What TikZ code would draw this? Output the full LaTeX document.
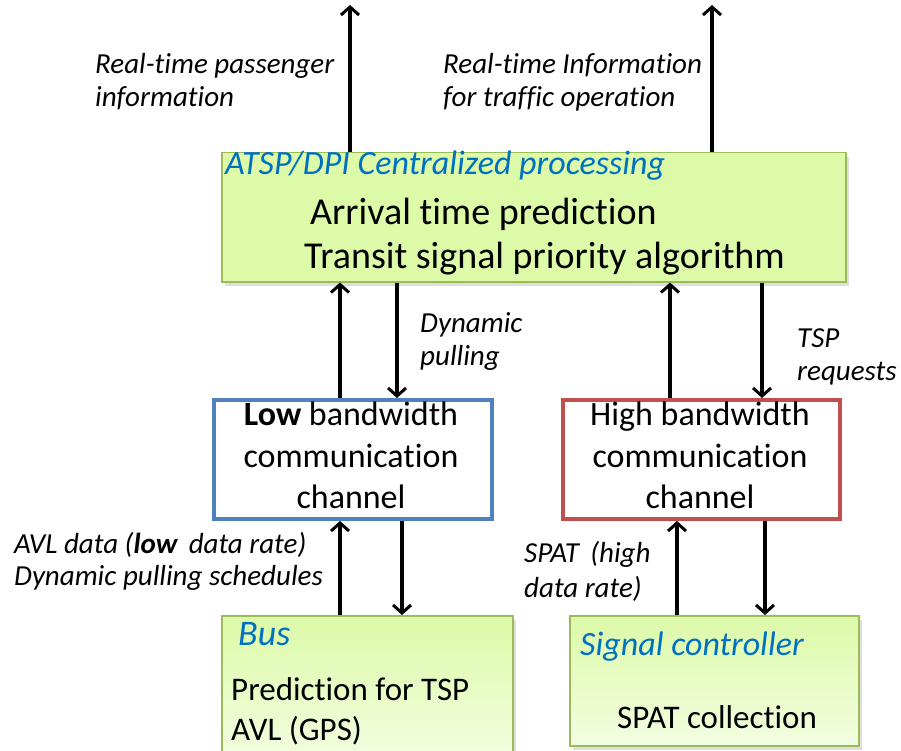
\documentclass[tikz,border=0pt]{standalone}
\usepackage{fontspec}
\setmainfont{Carlito}[Ligatures=NoCommon]
\usetikzlibrary{arrows.meta,shadows}
\definecolor{boxgreen}{RGB}{220,250,168}
\definecolor{greenedge}{RGB}{155,187,89}
\definecolor{titleblue}{RGB}{0,112,192}
\definecolor{lowblue}{RGB}{79,129,189}
\definecolor{highred}{RGB}{192,80,77}
\tikzset{
    procbox/.style={draw=greenedge, line width=1.5pt, fill=boxgreen, inner sep=0pt, anchor=north west,
        drop shadow={opacity=0.25, shadow xshift=3pt, shadow yshift=-4pt}},
    devbox/.style={procbox, fill=none, top color=boxgreen, middle color=boxgreen, bottom color=boxgreen!35!white},
    chanbox/.style={fill=white, line width=4pt, inner sep=0pt, anchor=north west},
    link/.style={line width=3.2pt, -{Straight Barb[length=8pt,width=18pt,line width=3pt]}},
    note/.style={font=\itshape\fontsize{29}{34}\selectfont, anchor=base west, inner sep=0pt},
    boxtitle/.style={font=\itshape\fontsize{34}{40}\selectfont, text=titleblue, anchor=base west, inner sep=0pt},
    bigtext/.style={font=\fontsize{38}{44}\selectfont, anchor=base west, inner sep=0pt},
    chantext/.style={font=\fontsize{34}{40}\selectfont, anchor=base, inner sep=0pt},
    devtext/.style={font=\fontsize{33}{40}\selectfont, anchor=base west, inner sep=0pt}
}
\begin{document}
\begin{tikzpicture}[x=1pt, y=-1pt]
    \useasboundingbox (0,0) rectangle (901,751);

    % boxes
    \node[procbox, minimum width=624pt, minimum height=129pt] (central) at (221,152) {};
    \node[chanbox, draw=lowblue, minimum width=278pt, minimum height=119pt] (low) at (212,398) {};
    \node[chanbox, draw=highred, minimum width=277pt, minimum height=119pt] (high) at (561,398) {};
    \node[devbox, minimum width=291pt, minimum height=145pt] (bus) at (221,615) {};
    \node[devbox, minimum width=289pt, minimum height=130pt] (signal) at (569,615) {};

    % box texts
    \node[boxtitle] (centraltitle) at (225,175) {ATSP/DPI Centralized processing};
    \node[bigtext] (arrival) at (310,225) {Arrival time prediction};
    \node[bigtext] (tspalgo) at (304,268) {Transit signal priority algorithm};

    \node[chantext] (low1) at (351,425) {\textbf{Low} bandwidth};
    \node[chantext] (low2) at (351,467) {communication};
    \node[chantext] (low3) at (351,508) {channel};
    \node[chantext] (high1) at (700,425) {High bandwidth};
    \node[chantext] (high2) at (700,467) {communication};
    \node[chantext] (high3) at (700,508) {channel};

    \node[boxtitle, font=\itshape\fontsize{36}{40}\selectfont] (bustitle) at (238,645) {Bus};
    \node[devtext] (buspred) at (231,700) {Prediction for TSP};
    \node[devtext] (busavl) at (231,740) {AVL (GPS)};
    \node[boxtitle] (signaltitle) at (580,655) {Signal controller};
    \node[devtext] (spatcoll) at (617,728) {SPAT collection};

    % labels
    \node[note] (pass1) at (95,74) {Real-time passenger};
    \node[note] (pass2) at (95,107) {information};
    \node[note] (traf1) at (443,74) {Real-time Information};
    \node[note] (traf2) at (443,107) {for traffic operation};
    \node[note] (pull1) at (420,332) {Dynamic};
    \node[note] (pull2) at (420,365) {pulling};
    \node[note] (req1) at (797,347) {TSP};
    \node[note] (req2) at (797,380) {requests};
    \node[note] (avl1) at (14,553) {AVL data (\textbf{low}\, data rate)};
    \node[note] (avl2) at (14,585) {Dynamic pulling schedules};
    \node[note] (spat1) at (524,562) {SPAT\, (high};
    \node[note] (spat2) at (524,597) {data rate)};

    % connectors
    \coordinate (out1) at (350,5);
    \coordinate (out2) at (712,5);
    \draw[link] (central.north -| out1) -- (out1);
    \draw[link] (central.north -| out2) -- (out2);
    \draw[link] (low.north -| 340,0) -- (central.south -| 340,0);
    \draw[link] (central.south -| 397,0) -- (low.north -| 397,0);
    \draw[link] (high.north -| 670,0) -- (central.south -| 670,0);
    \draw[link] (central.south -| 762,0) -- (high.north -| 762,0);
    \draw[link] (bus.north -| 340,0) -- (low.south -| 340,0);
    \draw[link] (low.south -| 402,0) -- (bus.north -| 402,0);
    \draw[link] (signal.north -| 677,0) -- (high.south -| 677,0);
    \draw[link] (high.south -| 765,0) -- (signal.north -| 765,0);
\end{tikzpicture}
\end{document}
